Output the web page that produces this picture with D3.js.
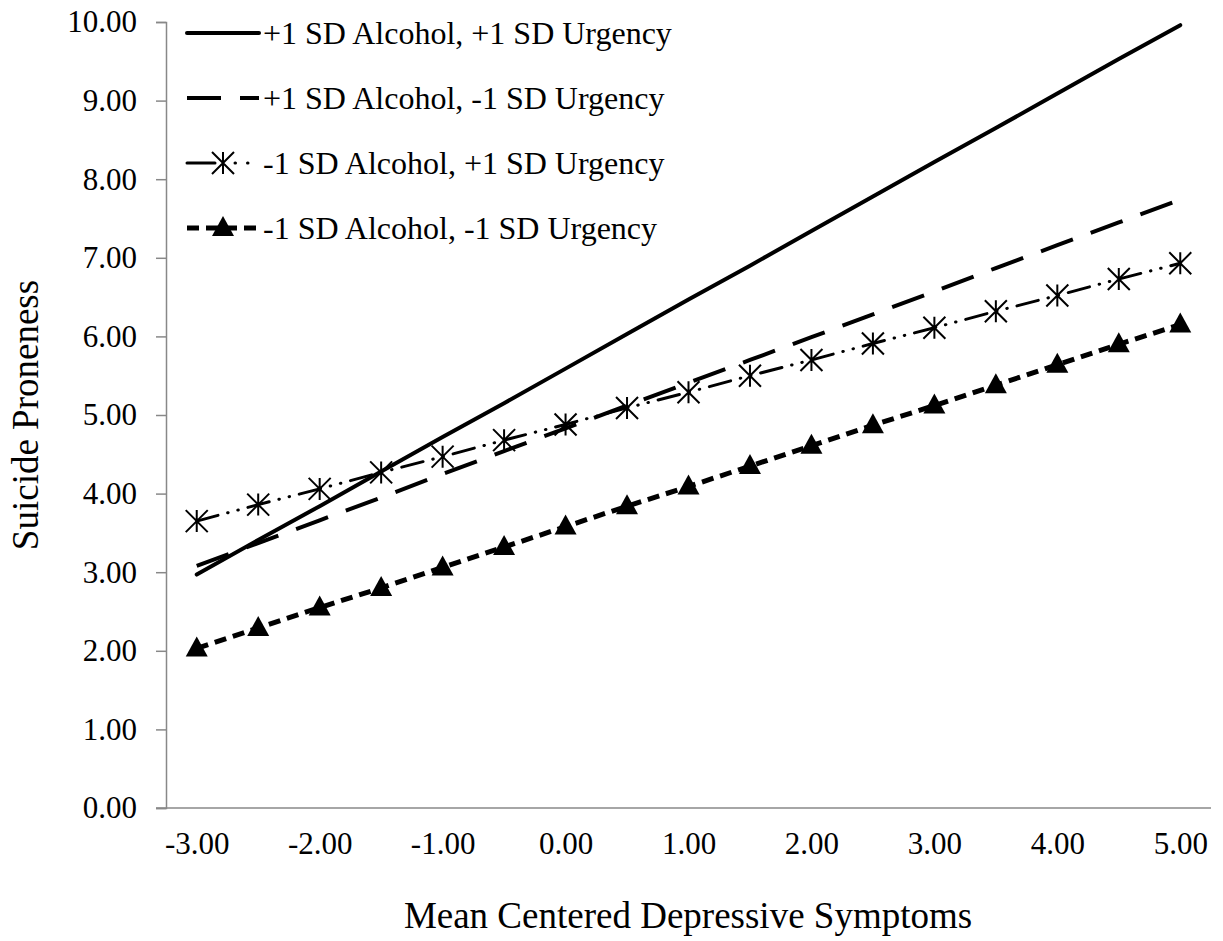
<!DOCTYPE html>
<html>
<head>
<meta charset="utf-8">
<script src="https://cdn.jsdelivr.net/npm/d3@7"></script>
<style>
  body { margin: 0; background: #fff; }
  text { font-family: "Liberation Serif", "Times New Roman", serif; fill: #000; }
</style>
</head>
<body>
<div id="viz"></div>
<script>
// data
var categories = ['-3.00','-2.50','-2.00','-1.50','-1.00','-0.50','0.00','0.50','1.00',
                  '1.50','2.00','2.50','3.00','3.50','4.00','4.50','5.00'];
var xTickLabels = ['-3.00','-2.00','-1.00','0.00','1.00','2.00','3.00','4.00','5.00'];
var yTicks = [0,1,2,3,4,5,6,7,8,9,10];

var seriesNames = ['+1 SD Alcohol, +1 SD Urgency', '+1 SD Alcohol, -1 SD Urgency',
                   '-1 SD Alcohol, +1 SD Urgency', '-1 SD Alcohol, -1 SD Urgency'];
var hiAlcHiUrg = [2.97,3.41,3.84,4.28,4.72,5.15,5.59,6.03,6.47,6.90,7.34,7.78,8.22,8.65,9.09,9.53,9.96];
var hiAlcLoUrg = [3.08,3.37,3.66,3.95,4.25,4.54,4.83,5.12,5.41,5.70,5.99,6.28,6.57,6.87,7.16,7.45,7.74];
var loAlcHiUrg = [3.65,3.86,4.06,4.27,4.47,4.68,4.88,5.09,5.29,5.50,5.70,5.91,6.11,6.32,6.52,6.73,6.93];
var loAlcLoUrg = [2.03,2.29,2.55,2.80,3.06,3.32,3.58,3.84,4.09,4.35,4.61,4.87,5.12,5.38,5.64,5.90,6.15];

var W = 1223, H = 941;
var plotLeft = 166, plotRight = 1211, plotTop = 22, plotBottom = 808;

var svg = d3.select('#viz').append('svg')
  .attr('width', W).attr('height', H);

var x = d3.scalePoint().domain(categories).range([plotLeft, plotRight]).padding(0.5);
var y = d3.scaleLinear().domain([0, 10]).range([plotBottom, plotTop]);

// y axis
var yAxis = svg.append('g')
  .attr('transform', 'translate(' + plotLeft + ',0)')
  .call(d3.axisLeft(y).tickValues(yTicks).tickSize(10).tickPadding(19)
        .tickFormat(function(d) { return d.toFixed(2); }));
yAxis.select('.domain').attr('stroke', '#888').attr('stroke-width', 1.5);
yAxis.selectAll('.tick line').attr('stroke', '#888').attr('stroke-width', 1.5);
yAxis.selectAll('text').style('font-size', '31px').attr('fill', '#000')
  .style('font-family', '"Liberation Serif", serif');

// x axis
var xAxis = svg.append('g')
  .attr('transform', 'translate(0,' + plotBottom + ')')
  .call(d3.axisBottom(x).tickValues(xTickLabels).tickSize(0).tickPadding(24).tickSizeOuter(0));
xAxis.select('.domain').attr('stroke', '#888').attr('stroke-width', 1.5)
  .attr('d', 'M' + (plotLeft - 10) + ',0H' + plotRight);
xAxis.selectAll('text').style('font-size', '31px').attr('fill', '#000')
  .style('font-family', '"Liberation Serif", serif');

// axis titles
svg.append('text')
  .attr('x', 688).attr('y', 928)
  .attr('text-anchor', 'middle').style('font-size', '37px')
  .text('Mean Centered Depressive Symptoms');
svg.append('text')
  .attr('transform', 'translate(38,' + ((plotTop + plotBottom) / 2) + ') rotate(-90)')
  .attr('text-anchor', 'middle').style('font-size', '37px')
  .text('Suicide Proneness');

var styles = [
  { data: hiAlcHiUrg, dash: null, width: 4, cap: 'round', marker: null },
  { data: hiAlcLoUrg, dash: '34,19', width: 4, cap: 'butt', marker: null },
  { data: loAlcHiUrg, dash: '22,10,0.5,10,0.5,10', width: 3, cap: 'round', marker: 'star' },
  { data: loAlcLoUrg, dash: '12,7', width: 5, cap: 'butt', marker: 'tri' }
];

var line = d3.line()
  .x(function(d, i) { return x(categories[i]); })
  .y(function(d) { return y(d); });

var plot = svg.append('g');

function drawMarker(g, type, cx, cy) {
  if (type === 'star') {
    var r = 11;
    g.append('path')
      .attr('d', 'M' + (cx - r) + ',' + (cy - r) + 'L' + (cx + r) + ',' + (cy + r) +
                 'M' + (cx - r) + ',' + (cy + r) + 'L' + (cx + r) + ',' + (cy - r) +
                 'M' + cx + ',' + (cy - r) + 'L' + cx + ',' + (cy + r))
      .attr('stroke', '#000').attr('stroke-width', 2).attr('fill', 'none');
  } else if (type === 'tri') {
    g.append('path')
      .attr('d', 'M' + cx + ',' + (cy - 12) + 'L' + (cx + 11) + ',' + (cy + 8) + 'L' + (cx - 11) + ',' + (cy + 8) + 'Z')
      .attr('fill', '#000');
  }
}

styles.forEach(function(s) {
  plot.append('path')
    .datum(s.data)
    .attr('d', line)
    .attr('fill', 'none')
    .attr('stroke', '#000')
    .attr('stroke-width', s.width)
    .attr('stroke-linecap', s.cap)
    .attr('stroke-dasharray', s.dash);
  if (s.marker) {
    s.data.forEach(function(v, i) {
      drawMarker(plot, s.marker, x(categories[i]), y(v));
    });
  }
});

// legend
var legY = [33, 98, 163, 228];
var legend = svg.append('g');
styles.forEach(function(s, i) {
  var ly = legY[i];
  legend.append('line')
    .attr('x1', 187).attr('x2', 259).attr('y1', ly).attr('y2', ly)
    .attr('stroke', '#000').attr('stroke-width', s.width)
    .attr('stroke-linecap', s.cap)
    .attr('stroke-dasharray', s.marker === 'star' ? '28,20,0.5,12,0.5,20' : s.dash);
  if (s.marker) drawMarker(legend, s.marker, 223, ly);
  legend.append('text')
    .attr('x', 263).attr('y', ly + 11)
    .style('font-size', '32px')
    .text(seriesNames[i]);
});
</script>
</body>
</html>
